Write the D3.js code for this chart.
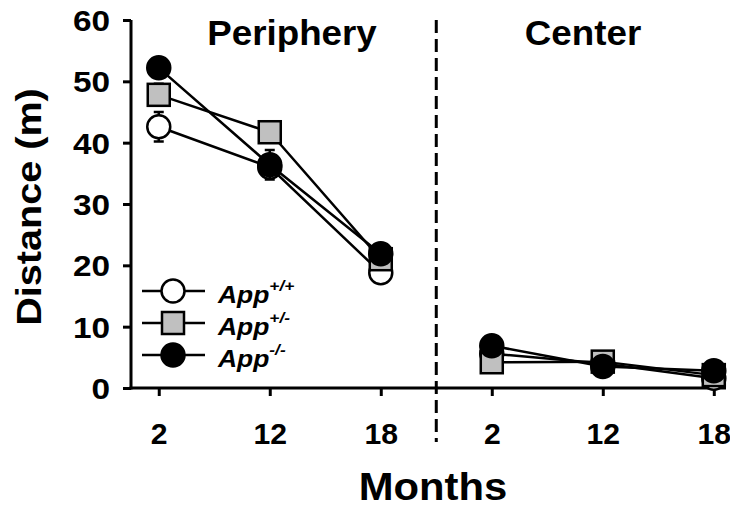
<!DOCTYPE html>
<html>
<head>
<meta charset="utf-8">
<script src="https://cdn.jsdelivr.net/npm/d3@7"></script>
<style>
  html, body { margin: 0; padding: 0; background: #fff; }
  svg { display: block; }
  text { font-family: Arial, "Liberation Sans", Helvetica, sans-serif; font-weight: bold; fill: #000; }
</style>
</head>
<body>
<svg id="chart" width="730" height="510"></svg>
<script>
// Distance travelled in each arena zone, by age and genotype
const regions = ["Periphery", "Center"];
const months = ["2", "12", "18"];
const yTicks = [0, 10, 20, 30, 40, 50, 60];

// Means: periphery points followed by center points
const wtMean  = [42.6, 36.0, 18.8, 5.6, 4.0, 1.6];
const hetMean = [47.8, 41.7, 21.0, 4.2, 4.3, 2.1];
const koMean  = [52.2, 36.4, 21.9, 6.9, 3.5, 2.8];
// Standard errors
const wtErr   = [2.4, 1.6, 1.2, 0.8, 0.6, 0.5];
const hetErr  = [1.8, 1.5, 1.2, 0.7, 0.6, 0.5];
const koErr   = [1.6, 2.4, 1.3, 0.8, 0.6, 0.8];

const seriesNames = ["+/+", "+/-", "-/-"];

const svg = d3.select("#chart");
const FONT = "Arial, 'Liberation Sans', Helvetica, sans-serif";

const x = d3.scaleLinear().domain([-0.25, 5.11]).range([131, 726]);
const y = d3.scaleLinear().domain([0, 60]).range([388, 20]);

const series = [
  { sup: seriesNames[0], mean: wtMean,  err: wtErr,  shape: "circle", fill: "#ffffff" },
  { sup: seriesNames[1], mean: hetMean, err: hetErr, shape: "square", fill: "#c0c0c0" },
  { sup: seriesNames[2], mean: koMean,  err: koErr,  shape: "circle", fill: "#000000" }
];

// Y axis
const yAxis = d3.axisLeft(y).tickValues(yTicks).tickSize(8).tickPadding(13);
const gy = svg.append("g").attr("transform", `translate(${x.range()[0]},0)`).call(yAxis);
gy.select(".domain").attr("stroke-width", 3).attr("d", `M0,${y(60)}V${y(0) + 1.5}`);
gy.selectAll(".tick line").attr("stroke-width", 3);
gy.selectAll(".tick text")
  .style("font-size", "29px").style("font-family", FONT).style("font-weight", "bold")
  .attr("x", 0).attr("dy", "0.36em")
  .attr("transform", "translate(-21,0) scale(1.15,1)");

// X axis: two groups of three ages
const xIdx = d3.range(6);
const xAxis = d3.axisBottom(x).tickValues(xIdx).tickSize(8).tickPadding(27)
  .tickFormat(i => months[i % 3]);
const gx = svg.append("g").attr("transform", `translate(0,${y(0)})`).call(xAxis);
gx.select(".domain").attr("stroke-width", 3).attr("d", `M${x.range()[0] - 1.5},0H${x.range()[1]}`);
gx.selectAll(".tick line").attr("stroke-width", 3);
gx.selectAll(".tick text")
  .style("font-size", "29px").style("font-family", FONT).style("font-weight", "bold")
  .attr("transform", "scale(1.04,1)");

// Divider between the two zones
svg.append("line")
  .attr("x1", x(2.5)).attr("x2", x(2.5))
  .attr("y1", y(60)).attr("y2", 442)
  .attr("stroke", "#000").attr("stroke-width", 3)
  .attr("stroke-dasharray", "13,6");

// Zone titles
svg.append("text").attr("transform", "translate(292,45) scale(1.05,1)").attr("text-anchor", "middle")
  .style("font-size", "35px").text(regions[0]);
svg.append("text").attr("transform", "translate(583,45) scale(1.05,1)").attr("text-anchor", "middle")
  .style("font-size", "35px").text(regions[1]);

// Axis titles
svg.append("text").attr("transform", `translate(41,207) rotate(-90) scale(1.1,1)`)
  .attr("text-anchor", "middle").style("font-size", "36px").text("Distance (m)");
svg.append("text").attr("transform", "translate(433,500) scale(1.1,1)").attr("text-anchor", "middle")
  .style("font-size", "38px").text("Months");

const R = 11.5;
function drawMarker(g, s, cx, cy) {
  if (s.shape === "circle") {
    g.append("circle").attr("cx", cx).attr("cy", cy).attr("r", R)
      .attr("fill", s.fill).attr("stroke", "#000").attr("stroke-width", 2.5);
  } else {
    g.append("rect").attr("x", cx - R + 0.5).attr("y", cy - R + 0.5)
      .attr("width", 2 * R - 1).attr("height", 2 * R - 1)
      .attr("fill", s.fill).attr("stroke", "#000").attr("stroke-width", 2.5);
  }
}

const line = d3.line().x(d => x(d.i)).y(d => y(d.v));

series.forEach(s => {
  const g = svg.append("g");
  const pts = s.mean.map((v, i) => ({ i, v, e: s.err[i] }));
  // error bars
  pts.forEach(p => {
    g.append("path")
      .attr("d", `M${x(p.i)},${y(p.v - p.e)}V${y(p.v + p.e)}M${x(p.i) - 5},${y(p.v - p.e)}h10M${x(p.i) - 5},${y(p.v + p.e)}h10`)
      .attr("stroke", "#000").attr("stroke-width", 2.5).attr("fill", "none");
  });
  // one connected line per zone
  [pts.slice(0, 3), pts.slice(3, 6)].forEach(seg => {
    g.append("path").attr("d", line(seg)).attr("fill", "none")
      .attr("stroke", "#000").attr("stroke-width", 2.5);
  });
  pts.forEach(p => drawMarker(g, s, x(p.i), y(p.v)));
});

// Legend
const legY = [291, 323, 355];
series.forEach((s, k) => {
  const g = svg.append("g");
  g.append("line").attr("x1", 142).attr("x2", 205).attr("y1", legY[k]).attr("y2", legY[k])
    .attr("stroke", "#000").attr("stroke-width", 2.5);
  drawMarker(g, s, 173, legY[k]);
  const t = g.append("text").attr("transform", `translate(218,${legY[k] + 12}) scale(1.15,1)`)
    .style("font-size", "23px").style("font-style", "italic");
  t.append("tspan").text("App");
  t.append("tspan").attr("dy", -12).style("font-size", "15px").text(s.sup);
});
</script>
</body>
</html>
